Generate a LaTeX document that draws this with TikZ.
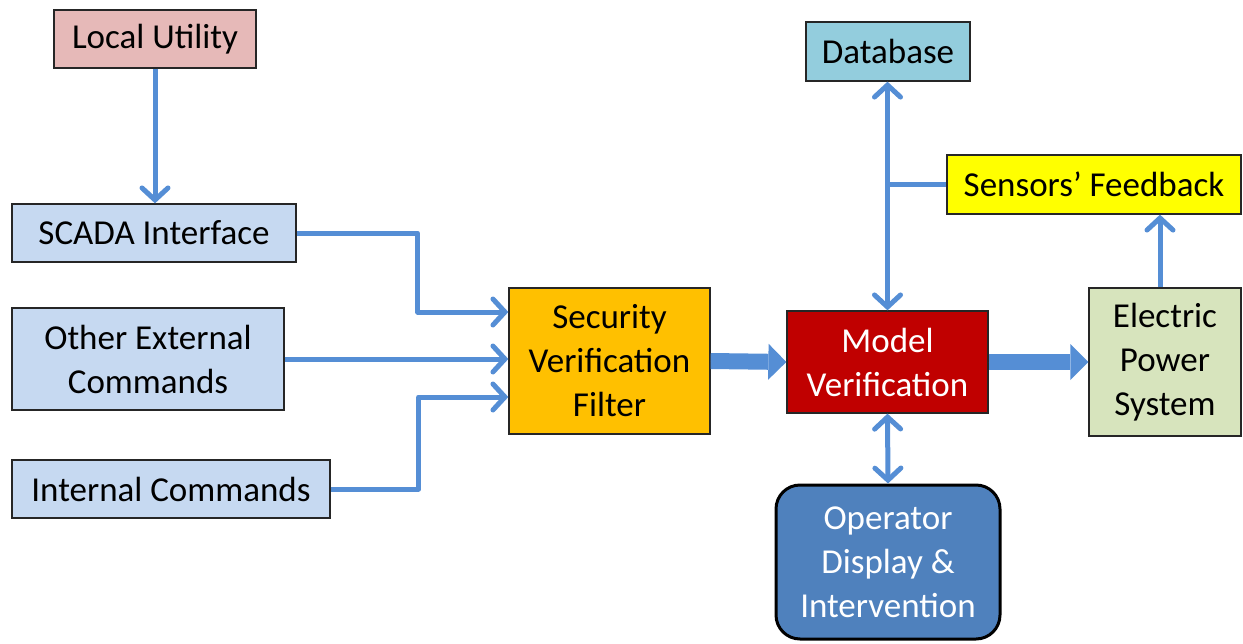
\documentclass[tikz,border=0pt]{standalone}
\usepackage{fontspec}
\setmainfont{Carlito}
\usetikzlibrary{arrows.meta,calc}
\definecolor{cLU}{HTML}{E6B9B8}
\definecolor{cLB}{HTML}{C6D9F1}
\definecolor{cSec}{HTML}{FFC000}
\definecolor{cMod}{HTML}{C00000}
\definecolor{cDB}{HTML}{93CDDD}
\definecolor{cSens}{HTML}{FFFF00}
\definecolor{cEPS}{HTML}{D7E4BD}
\definecolor{cOp}{HTML}{4F81BD}
\definecolor{cConn}{HTML}{558ED5}
\definecolor{cBorder}{HTML}{262626}
\tikzset{
  box/.style={draw=cBorder, line width=1.3pt, inner sep=0pt, align=center,
    font=\fontsize{35}{44}\selectfont},
  barb/.tip={Straight Barb[length=12pt,width=26pt,line cap=round]},
  conn/.style={draw=cConn, line width=5pt, line join=round, -barb},
  conn2/.style={draw=cConn, line width=5pt, barb-barb},
  plain/.style={draw=cConn, line width=5pt},
  thick/.style={draw=cConn, line width=16pt,
    -{Triangle[length=18pt,width=36pt,line width=0pt]}, fill=cConn},
}
\begin{document}
\begin{tikzpicture}[x=1pt,y=-1pt]
\useasboundingbox (0,0) rectangle (1243,643);
\node[box, fill=cLU, minimum width=202pt, minimum height=58pt] (lu) at (155,39) {Local Utility};
\node[box, fill=cLB, minimum width=284pt, minimum height=58pt] (scada) at (154,233) {SCADA Interface};
\node[box, fill=cLB, minimum width=272pt, minimum height=102pt] (other) at (148,359) {Other External\\Commands};
\node[box, fill=cLB, minimum width=318pt, minimum height=58pt] (internal) at (171,489) {Internal Commands};
\node[box, fill=cSec, minimum width=201pt, minimum height=146pt] (sec) at (609.5,361) {Security\\Verification\\Filter};
\node[box, fill=cMod, text=white, minimum width=201pt, minimum height=102pt] (mod) at (887.5,362) {Model\\Verification};
\node[box, fill=cDB, minimum width=164pt, minimum height=59pt] (db) at (888,51.5) {Database};
\node[box, fill=cSens, minimum width=294pt, minimum height=59pt] (sens) at (1094,184.5) {Sensors’ Feedback};
\node[box, fill=cEPS, minimum width=152pt, minimum height=148pt] (eps) at (1165,362) {Electric\\Power\\System};
\node[box, draw=black, line width=3pt, rounded corners=24pt, fill=cOp, text=white,
  minimum width=224pt, minimum height=154pt] (op) at (888,562) {Operator\\Display \&\\Intervention};

\draw[conn] (lu.south) -- (lu.south |- scada.north);
\draw[conn] (scada.east) -- ++(121pt,0) |- ([yshift=49pt]sec.west);
\draw[conn] (other.east) -- (other.east -| sec.west);
\draw[conn] (internal.east) -- ++(88pt,0) |- ([yshift=-36pt]sec.west);
\draw[thick] (sec.east) -- (mod.west);
\draw[thick] (mod.east) -- (eps.west);
\draw[conn2] (mod.north) -- (mod.north |- db.south);
\draw[plain] (sens.west) -- (sens.west -| mod.north);
\draw[conn] ([xshift=-5pt]eps.north) -- ([xshift=-5pt]eps.north |- sens.south);
\draw[conn2] (mod.south) -- (op.north);
\end{tikzpicture}
\end{document}
